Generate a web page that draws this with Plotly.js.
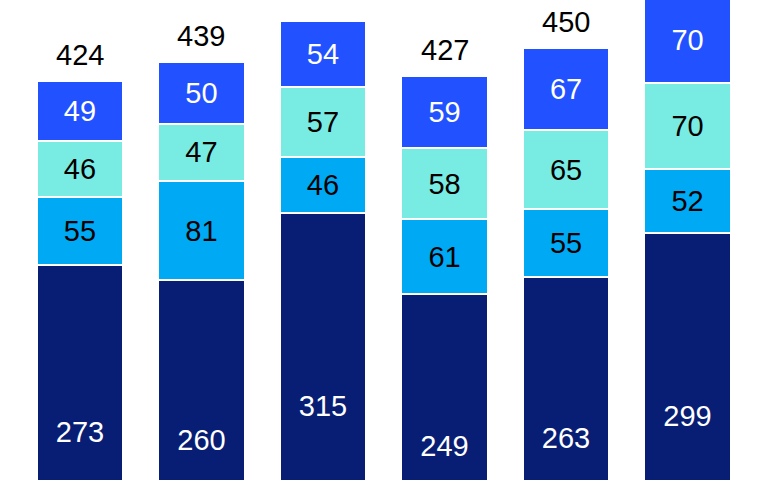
<!DOCTYPE html>
<html>
<head>
<meta charset="utf-8">
<script src="https://cdn.plot.ly/plotly-3.0.1.min.js"></script>
<style>html,body{margin:0;padding:0;background:#fff;}#chart{width:767px;height:480px;}</style>
</head>
<body>
<div id="chart"></div>
<script>
const categories = ['Bar A', 'Bar B', 'Bar C', 'Bar D', 'Bar E', 'Bar F'];
const seriesA = [273, 260, 315, 249, 263, 299];
const seriesB = [55, 81, 46, 61, 55, 52];
const seriesC = [46, 47, 57, 58, 65, 70];
const seriesD = [49, 50, 54, 59, 67, 70];
const totals = [424, 439, null, 427, 450, null];

const colors = ['#071e74', '#00a9f4', '#78ece3', '#2251ff'];
const textColors = ['#ffffff', '#000000', '#000000', '#ffffff'];
const series = [seriesA, seriesB, seriesC, seriesD];
const FONT = 'Liberation Sans, Arial, sans-serif';

const traces = series.map((vals, k) => ({
  type: 'bar',
  x: categories,
  y: vals,
  text: vals.map(String),
  textposition: 'inside',
  insidetextanchor: 'middle',
  textangle: 0,
  insidetextfont: {family: FONT, size: 29, color: textColors[k]},
  marker: {color: colors[k], line: {color: '#ffffff', width: 2}},
  hoverinfo: 'none',
  showlegend: false
}));

const annotations = [];
categories.forEach((c, i) => {
  if (totals[i] === null) return;
  const top = seriesA[i] + seriesB[i] + seriesC[i] + seriesD[i];
  annotations.push({
    x: i, y: top, xref: 'x', yref: 'y',
    text: String(totals[i]), showarrow: false,
    yanchor: 'bottom', yshift: 8,
    font: {family: FONT, size: 29, color: '#000000'}
  });
});

const layout = {
  width: 767, height: 480,
  margin: {l: 0, r: 0, t: 0, b: 0},
  paper_bgcolor: '#ffffff', plot_bgcolor: '#ffffff',
  barmode: 'stack',
  bargap: 0.29,
  xaxis: {type: 'category', range: [-0.658, 5.654], visible: false, fixedrange: true},
  yaxis: {range: [97.1, 489], visible: false, fixedrange: true},
  annotations: annotations
};

Plotly.newPlot('chart', traces, layout, {staticPlot: true, displayModeBar: false});
</script>
</body>
</html>
